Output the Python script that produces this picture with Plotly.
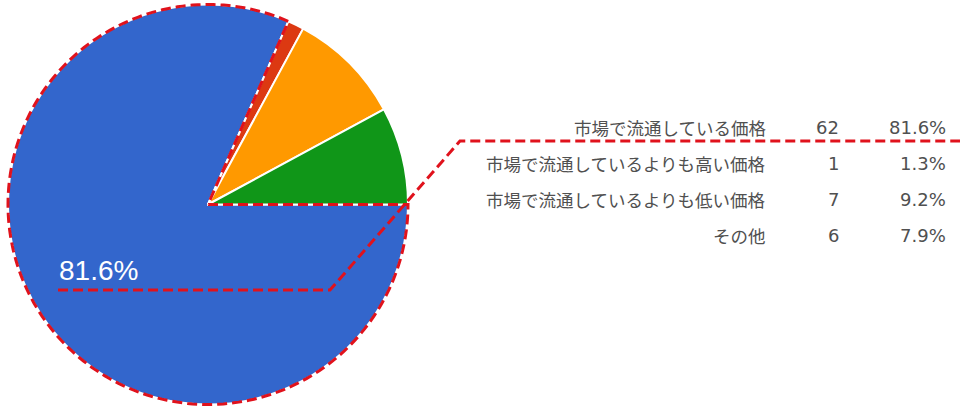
import numpy as np
import plotly.graph_objects as go

labels = ["市場で流通している価格", "市場で流通しているよりも高い価格",
          "市場で流通しているよりも低い価格", "その他"]
counts = [62, 1, 7, 6]
colors = ["#3366cc", "#dc3912", "#ff9900", "#109618"]

W, H = 960, 413
RED = "#e0121c"
GRAY = "#505050"
FONT = "Noto Sans CJK JP"
NUMFONT = "DejaVu Sans"

total = sum(counts)
pcts = [c / total * 100 for c in counts]

# pie placement in pixels
cx, cy, r = 208, 204.5, 200

fig = go.Figure()
fig.add_trace(go.Pie(
    labels=labels, values=counts, sort=False, direction="clockwise",
    rotation=90, textinfo="none", hoverinfo="label+value+percent",
    marker=dict(colors=colors, line=dict(color="white", width=2)),
    domain=dict(x=[(cx - r) / W, (cx + r) / W],
                y=[(H - cy - r) / H, (H - cy + r) / H]),
    showlegend=False,
))

dash = dict(color=RED, width=3, dash="10px,5px")

# dashed outline around the highlighted (first) slice
end = 2 * np.pi * counts[0] / total
th = np.linspace(0, end, 200)
pts = [(cx, cy)] + list(zip(cx + r * np.cos(th), cy + r * np.sin(th))) + [(cx, cy)]
path = "M " + " L ".join(f"{x:.2f},{y:.2f}" for x, y in pts)
fig.add_shape(type="path", path=path, xref="x", yref="y", layer="above",
              line=dash)

# leader line from the slice label to the table row
lx = [58, 330, 460, 960]
ly = [290, 290, 141, 141]
lpath = "M " + " L ".join(f"{x},{y}" for x, y in zip(lx, ly))
fig.add_shape(type="path", path=lpath, xref="x", yref="y", layer="above",
              line=dash)

fig.add_annotation(x=57, y=288, xref="x", yref="y", xanchor="left",
                   yanchor="bottom", showarrow=False,
                   text=f"{pcts[0]:.1f}%",
                   font=dict(family="Liberation Sans, Arial", size=28,
                             color="white"))

# table on the right
row_y = [127, 163, 199, 235]
for lab, c, p, y in zip(labels, counts, pcts, row_y):
    fig.add_annotation(x=768, y=y, xref="x", yref="y",
                       xanchor="right", yanchor="middle", showarrow=False,
                       text=lab, font=dict(family=FONT, size=17.5, color=GRAY))
    for txt, xr in [(str(c), 841), (f"{p:.1f}%", 948)]:
        fig.add_annotation(x=xr, y=y, xref="x", yref="y",
                           xanchor="right", yanchor="middle", showarrow=False,
                           text=txt,
                           font=dict(family=NUMFONT, size=18, color=GRAY))

fig.update_layout(
    width=W, height=H, margin=dict(l=0, r=0, t=0, b=0),
    paper_bgcolor="white", plot_bgcolor="rgba(0,0,0,0)",
    xaxis=dict(range=[0, W], visible=False, fixedrange=True),
    yaxis=dict(range=[H, 0], visible=False, fixedrange=True),
)

# drop the default page margin so the figure sits at the window corner
fig.write_html("out.html", config={"displayModeBar": False},
               post_script="document.body.style.margin='0px';")
